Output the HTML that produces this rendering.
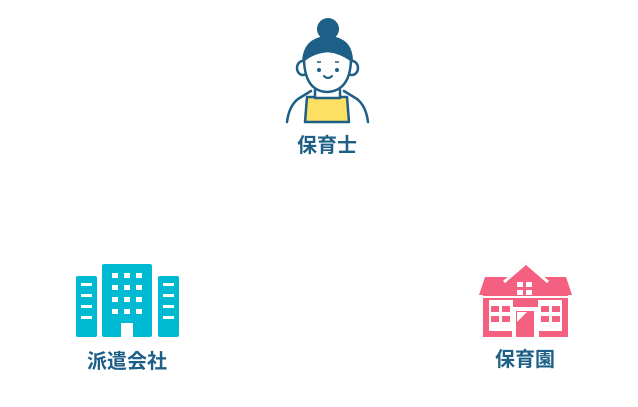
<!DOCTYPE html>
<html><head><meta charset="utf-8"><style>
html,body{margin:0;padding:0;background:#fff;}
svg{display:block}
text{font-family:"Liberation Sans","Noto Sans CJK JP",sans-serif;font-weight:bold;fill:#1d5f86;font-size:20px;text-anchor:middle}
</style></head><body>
<svg width="638" height="407" viewBox="0 0 638 407">
<!-- person -->
<g stroke="#1d5f86" stroke-width="2.5" fill="none" stroke-linecap="round" stroke-linejoin="round">
  <path d="M311 91 L298 99 Q289 106 287 122" />
  <path d="M344 91 L357 99 Q366 106 368 122" />
  <path d="M305 122 L307 97 L347 97 L349 122 Z" fill="#fcdf63"/>
  <path d="M315 90 L315 98 L340 98 L340 90" fill="#fff"/>
</g>
<circle cx="328" cy="29" r="11" fill="#1d5f86"/>
<path d="M302 64 Q302 37 328 36 Q354 37 353 64 Z" fill="#1d5f86"/>
<ellipse cx="303" cy="68" rx="6" ry="7" fill="#fff" stroke="#1d5f86" stroke-width="2.5"/>
<ellipse cx="352" cy="68" rx="6" ry="7" fill="#fff" stroke="#1d5f86" stroke-width="2.5"/>
<path d="M304 60 Q305 91 327 92 Q350 91 351 60 Q340 52 328 51 Q314 52 304 60 Z" fill="#fff" stroke="#1d5f86" stroke-width="2.5"/>
<circle cx="319" cy="70" r="2" fill="#1d5f86"/><circle cx="337" cy="70" r="2" fill="#1d5f86"/>
<path d="M317 62 L321 62 M335 62 L339 62" stroke="#1d5f86" stroke-width="1.5"/>
<path d="M324 76 Q328 80 332 76" stroke="#1d5f86" stroke-width="2" fill="none" stroke-linecap="round"/>
<text x="327" y="152">保育士</text>
<!-- building -->
<g fill="#00b9d3">
  <rect x="102" y="264" width="50" height="73" rx="2"/>
  <rect x="76" y="276" width="21" height="61" rx="2"/>
  <rect x="158" y="276" width="21" height="61" rx="2"/>
</g>
<g fill="#fff">
  <rect x="121" y="323" width="12" height="14"/>
  <rect x="112" y="273" width="6" height="5"/><rect x="124" y="273" width="6" height="5"/><rect x="136" y="273" width="6" height="5"/>
  <rect x="112" y="285" width="6" height="5"/><rect x="124" y="285" width="6" height="5"/><rect x="136" y="285" width="6" height="5"/>
  <rect x="112" y="297" width="6" height="5"/><rect x="124" y="297" width="6" height="5"/><rect x="136" y="297" width="6" height="5"/>
  <rect x="112" y="309" width="6" height="5"/><rect x="124" y="309" width="6" height="5"/><rect x="136" y="309" width="6" height="5"/>
  <rect x="81" y="283" width="11" height="3"/><rect x="81" y="294" width="11" height="3"/><rect x="81" y="305" width="11" height="3"/><rect x="81" y="316" width="11" height="3"/>
  <rect x="163" y="283" width="11" height="3"/><rect x="163" y="294" width="11" height="3"/><rect x="163" y="305" width="11" height="3"/><rect x="163" y="316" width="11" height="3"/>
</g>
<text x="127" y="368">派遣会社</text>
<!-- house -->
<g fill="#f4607f">
  <path d="M485 277 L566 277 L572 295 L479 295 Z"/>
  <rect x="483" y="295" width="85" height="42"/>
  <path d="M501 283 L526 261 L551 283 L551 300 L501 300 Z"/>
</g>
<path d="M504 282 L526 263 L548 282" stroke="#fff" stroke-width="3" fill="none"/>
<rect x="483" y="296" width="85" height="2" fill="#fff"/>
<g fill="#fff">
  <rect x="489" y="300" width="24" height="31"/>
  <rect x="538" y="300" width="24" height="31"/>
  <rect x="512" y="307" width="27" height="30"/>
  <rect x="517" y="282" width="6" height="5"/><rect x="526" y="282" width="6" height="5"/>
  <rect x="517" y="290" width="6" height="5"/><rect x="526" y="290" width="6" height="5"/>
</g>
<g fill="#f4607f">
  <rect x="491" y="306" width="8" height="6"/><rect x="502" y="306" width="8" height="6"/>
  <rect x="491" y="316" width="8" height="6"/><rect x="502" y="316" width="8" height="6"/>
  <rect x="541" y="306" width="8" height="6"/><rect x="552" y="306" width="8" height="6"/>
  <rect x="541" y="316" width="8" height="6"/><rect x="552" y="316" width="8" height="6"/>
  <path d="M516 337 L516 311 L534 311 L534 337 Z"/>
</g>
<path d="M517 322 L527 312 L517 312 Z" fill="#fff"/>
<text x="525" y="366">保育園</text>
</svg>
</body></html>
